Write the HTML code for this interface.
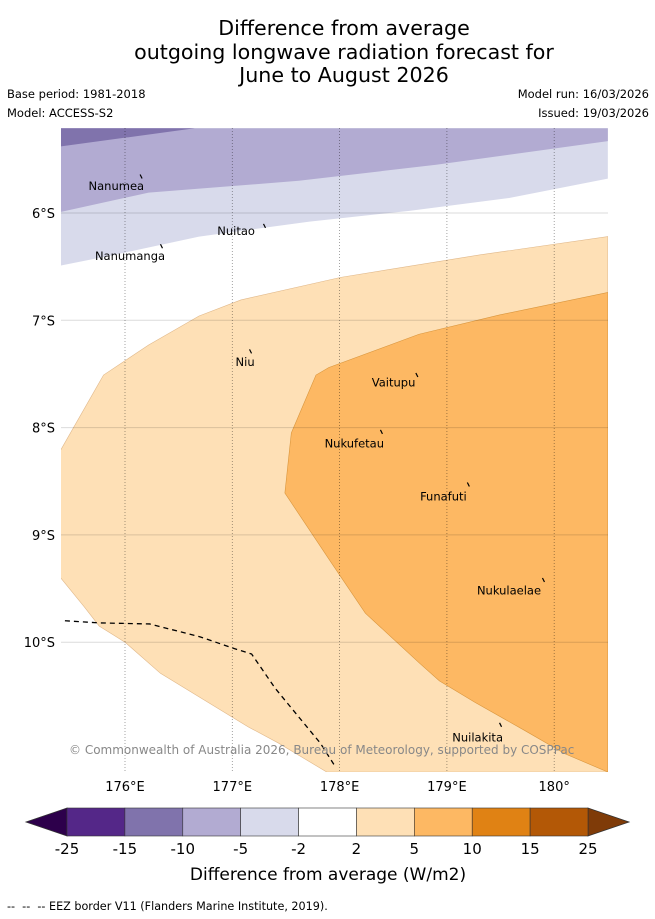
<!DOCTYPE html>
<html><head><meta charset="utf-8">
<style>
body{margin:0;background:#fff;width:655px;height:919px;overflow:hidden;font-family:"DejaVu Sans","Liberation Sans",sans-serif;}
.t{position:absolute;color:#000;}
</style></head>
<body>
<div class="t" style="left:0;width:688px;top:17px;text-align:center;font-size:20.6px;line-height:23.5px;">Difference from average<br>outgoing longwave radiation forecast for<br>June to August 2026</div>
<div class="t" style="left:7px;top:87px;font-size:11.5px;">Base period: 1981-2018</div>
<div class="t" style="left:7px;top:106px;font-size:11.5px;">Model: ACCESS-S2</div>
<div class="t" style="right:6px;top:87px;font-size:11.5px;">Model run: 16/03/2026</div>
<div class="t" style="right:6px;top:106px;font-size:11.5px;">Issued: 19/03/2026</div>
<svg id="map" width="655" height="919" style="position:absolute;left:0;top:0" font-family="DejaVu Sans, Liberation Sans, sans-serif"></svg>
<div class="t" style="left:7px;top:900px;font-size:11.2px;">--&nbsp; --&nbsp; -- EEZ border V11 (Flanders Marine Institute, 2019).</div>
<script>
const lonTicks=[176,177,178,179,180];
const lonLabels=["176°E","177°E","178°E","179°E","180°"];
const latTicks=[6,7,8,9,10];
const latLabels=["6°S","7°S","8°S","9°S","10°S"];
const levels=["-25","-15","-10","-5","-2","2","5","10","15","25"];
const levelColors=["#542788","#8073ac","#b2abd2","#d8daeb","#ffffff","#fee0b6","#fdb863","#e08214","#b35806"];
// contour polygons in lon (°E) / lat (°S)
const darkPurpleLon=[175.40,176.65,175.40];
const darkPurpleLat=[5.21,5.21,5.38];
const midPurpleLon=[175.40,180.50,180.50,178.90,177.62,176.22,175.40];
const midPurpleLat=[5.21,5.21,5.33,5.55,5.70,5.81,5.99];
const lightPurpleLon=[175.40,180.50,180.50,179.58,178.65,177.72,176.69,175.95,175.40];
const lightPurpleLat=[5.21,5.21,5.68,5.86,5.98,6.08,6.22,6.38,6.49];
const lightOrangeLon=[180.50,179.31,178.01,177.08,176.69,176.22,175.80,175.40,175.40,175.62,175.76,176.00,176.33,177.15,177.43,177.88,178.71,179.60,180.50];
const lightOrangeLat=[6.22,6.39,6.60,6.81,6.96,7.23,7.51,8.21,9.40,9.67,9.85,10.00,10.29,10.79,10.94,11.21,11.21,11.21,11.21];
const orangeLon=[180.50,179.49,178.74,177.90,177.78,177.55,177.49,177.91,178.24,178.75,178.93,179.26,179.72,180.10,180.50];
const orangeLat=[6.74,6.95,7.13,7.44,7.51,8.05,8.61,9.24,9.73,10.20,10.36,10.56,10.82,11.04,11.21];
const eezLon=[175.44,175.76,176.23,176.70,177.02,177.18,177.40,177.63,177.82,177.96];
const eezLat=[9.80,9.82,9.83,9.95,10.06,10.11,10.43,10.71,10.94,11.16];
const islandNames=["Nanumea","Nuitao","Nanumanga","Niu","Vaitupu","Nukufetau","Funafuti","Nukulaelae","Nuilakita"];
const islandLon=[176.15,177.30,176.34,177.17,178.72,178.39,179.20,179.90,179.50];
const islandLat=[5.66,6.12,6.31,7.29,7.51,8.04,8.53,9.42,10.77];
const labelLon=[175.66,176.86,175.72,177.03,178.30,177.86,178.75,179.28,179.05];
const labelLat=[5.75,6.17,6.40,7.39,7.58,8.15,8.64,9.52,10.89];

const NS='http://www.w3.org/2000/svg';
const svg=document.getElementById('map');
const L=61,R=608,T=128,B=772;
const xs=lon=>125+(lon-176)*107.3;
const ys=lat=>213+(lat-6)*107.3;
function mk(tag,attrs,parent){const e=document.createElementNS(NS,tag);for(const k in attrs)e.setAttribute(k,attrs[k]);(parent||svg).appendChild(e);return e;}
const defs=mk('defs',{});
const cp=mk('clipPath',{id:'clip'},defs);mk('rect',{x:L,y:T,width:R-L,height:B-T},cp);
const g=mk('g',{'clip-path':'url(#clip)'});
function poly(lons,lats,fill,name,stroke){
  const p=mk('polygon',{points:lons.map((v,i)=>xs(v)+','+ys(lats[i])).join(' '),fill:fill,stroke:stroke||'none','stroke-width':0.6},g);
  
  
}
poly(lightPurpleLon,lightPurpleLat,'#d8daeb','contour-minus5');
poly(midPurpleLon,midPurpleLat,'#b2abd2','contour-minus10');
poly(darkPurpleLon,darkPurpleLat,'#8073ac','contour-minus15');
poly(lightOrangeLon,lightOrangeLat,'#fee0b6','contour-plus2','#e0b88a');
poly(orangeLon,orangeLat,'#fdb863','contour-plus5','#d9963e');
latTicks.forEach((v,i)=>{
  const y=ys(v);
  const l=mk('line',{x1:L,x2:R,y1:y,y2:y,stroke:'rgba(0,0,0,0.14)','stroke-width':1},g);
  
  
  const t=mk('text',{x:55,y:y+5,'text-anchor':'end','font-size':13});t.textContent=latLabels[i];
  
  
});
lonTicks.forEach((v,i)=>{
  const x=xs(v);
  const l=mk('line',{x1:x,x2:x,y1:T,y2:B,stroke:'rgba(0,0,0,0.45)','stroke-width':0.8,'stroke-dasharray':'1,2'},g);
  
  
  const t=mk('text',{x:x,y:791,'text-anchor':'middle','font-size':13});t.textContent=lonLabels[i];
  
  
});
const eez=mk('polyline',{points:eezLon.map((v,i)=>xs(v)+','+ys(eezLat[i])).join(' '),fill:'none',stroke:'#000','stroke-width':1.3,'stroke-dasharray':'5,4'},g);


islandNames.forEach((n,i)=>{
  const x=xs(islandLon[i]),y=ys(islandLat[i]);
  const m=mk('line',{x1:x-1,y1:y-2,x2:x+1,y2:y+2,stroke:'#000','stroke-width':1.2},g);
  
  
  const t=mk('text',{x:xs(labelLon[i]),y:ys(labelLat[i])+4,'font-size':11.5},g);t.textContent=n;
  
  
});
const cr=mk('text',{x:69,y:754,'font-size':12,fill:'#888'},g);
cr.textContent='© Commonwealth of Australia 2026, Bureau of Meteorology, supported by COSPPac';


// colorbar
const cbL=67,cbR=588,cbT=808,cbB=836,n=levelColors.length,w=(cbR-cbL)/n;
const lt=mk('polygon',{points:`${cbL},${cbT} ${cbL},${cbB} 26,822`,fill:'#2d004b',stroke:'#333','stroke-width':0.8});


const rt=mk('polygon',{points:`${cbR},${cbT} ${cbR},${cbB} 629,822`,fill:'#7f3b08',stroke:'#333','stroke-width':0.8});


levelColors.forEach((c,i)=>{
  const r=mk('rect',{x:cbL+i*w,y:cbT,width:w,height:cbB-cbT,fill:c,stroke:'#333','stroke-width':0.6});
  
  
});
levels.forEach((v,i)=>{
  const t=mk('text',{x:cbL+i*w,y:854,'text-anchor':'middle','font-size':15});t.textContent=v;
  
  
});
const ct=mk('text',{x:328,y:880,'text-anchor':'middle','font-size':17});ct.textContent='Difference from average (W/m2)';


</script>
</body></html>
